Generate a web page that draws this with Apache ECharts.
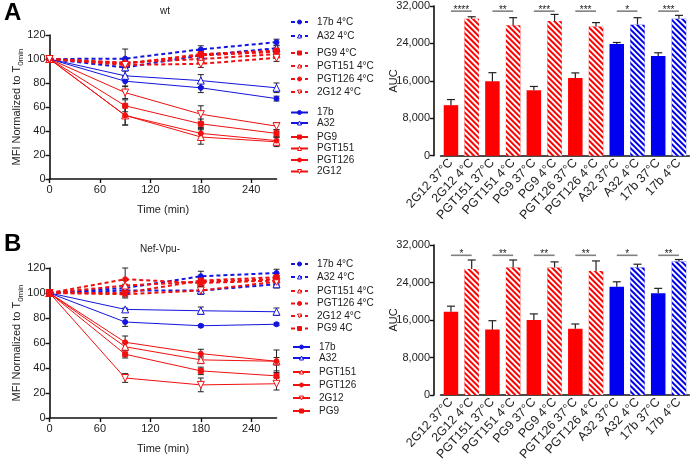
<!DOCTYPE html>
<html><head><meta charset="utf-8">
<script src="https://cdn.jsdelivr.net/npm/echarts@6/dist/echarts.min.js"></script>
<style>html,body{margin:0;padding:0;background:#fff}#c{width:696px;height:461px}</style>
</head><body><div id="c"></div>
<script>
// ---------- DATA ----------
const times = [0, 90, 180, 270];
const timeTicks = [0, 60, 120, 180, 240];

// Panel A (wt)
const A_17b_4C = [100, 100.3, 108, 114];   const A_17b_4C_err = [0, 8, 3, 2.5];
const A_A32_4C = [100, 93, 103, 109];      const A_A32_4C_err = [0, 7, 3, 2];
const A_PG9_4C = [100, 96, 104, 107];      const A_PG9_4C_err = [0, 3, 3, 2];
const A_PGT151_4C = [100, 97, 100, 104];   const A_PGT151_4C_err = [0, 3, 2, 2];
const A_PGT126_4C = [100, 96.5, 103, 106]; const A_PGT126_4C_err = [0, 3, 2, 2];
const A_2G12_4C = [100, 95, 96, 101];      const A_2G12_4C_err = [0, 3, 3, 3];
const A_17b = [100, 81.5, 76, 67];         const A_17b_err = [0, 4, 4, 2];
const A_A32 = [100, 86, 82, 76];           const A_A32_err = [0, 4, 5, 4];
const A_PG9 = [100, 61, 46, 38];           const A_PG9_err = [0, 5, 4, 3];
const A_PGT151 = [100, 53, 35, 31];        const A_PGT151_err = [0, 8, 6, 4];
const A_PGT126 = [100, 53, 38, 32];        const A_PGT126_err = [0, 8, 5, 3];
const A_2G12 = [100, 72, 54, 44];          const A_2G12_err = [0, 5, 7, 3];

// Panel B (Nef-Vpu-)
const B_17b_4C = [100, 104, 113.4, 116];   const B_17b_4C_err = [0, 3, 4, 3];
const B_A32_4C = [100, 102, 102, 107];     const B_A32_4C_err = [0, 3, 3, 3];
const B_PGT151_4C = [100, 106, 109, 111];  const B_PGT151_4C_err = [0, 4, 3, 3];
const B_PGT126_4C = [100, 111, 108, 110];  const B_PGT126_4C_err = [0, 9, 3, 3];
const B_2G12_4C = [100, 99, 102, 109];     const B_2G12_4C_err = [0, 3, 3, 3];
const B_PG9_4C = [100, 100, 110, 112.6];   const B_PG9_4C_err = [0, 3, 3, 3];
const B_17b = [100, 76.8, 73.8, 75];       const B_17b_err = [0, 3.5, 1, 1];
const B_A32 = [100, 86.9, 85.8, 85];       const B_A32_err = [0, 1, 3, 3];
const B_PGT151 = [100, 57, 46.5, 45.4];    const B_PGT151_err = [0, 3, 3, 3];
const B_PGT126 = [100, 60.6, 51.5, 45.4];  const B_PGT126_err = [0, 5, 3.5, 9];
const B_2G12 = [100, 32, 26.5, 27.4];      const B_2G12_err = [0, 3.5, 5.5, 5];
const B_PG9 = [100, 51, 37.7, 33.7];       const B_PG9_err = [0, 3, 3, 4];

// AUC bars
const barCategories = ['2G12 37°C', '2G12 4°C', 'PGT151 37°C', 'PGT151 4°C', 'PG9 37°C', 'PG9 4°C',
  'PGT126 37°C', 'PGT126 4°C', 'A32 37°C', 'A32 4°C', '17b 37°C', '17b 4°C'];
const aucA = [10800, 29300, 15900, 27900, 14000, 28800, 16600, 27600, 23900, 28000, 21300, 29300];
const aucA_err = [1200, 400, 1850, 1600, 800, 1400, 1100, 850, 300, 1500, 700, 700];
const aucB = [17750, 26900, 13950, 27200, 16000, 27200, 14150, 26450, 23100, 27200, 21700, 28500];
const aucB_err = [1200, 1900, 1900, 1600, 1300, 1200, 1000, 2150, 1050, 700, 1050, 400];
const sigPairs = [[0, 1], [2, 3], [4, 5], [6, 7], [8, 9], [10, 11]];
const sigStarsA = ['****', '**', '***', '***', '*', '***'];
const sigStarsB = ['*', '**', '**', '**', '*', '**'];
const sigLevelA = 30900;
const sigLevelB = 29800;

// ---------- STYLE ----------
const RED = '#f01010', BLUE = '#1414e0', BAR_RED = '#ff0000', BAR_BLUE = '#0000f0';
const FONT = 'Liberation Sans, Arial, sans-serif';

const panelA = [
  ['17b 4°C', A_17b_4C, A_17b_4C_err, BLUE, 'circle', true],
  ['A32 4°C', A_A32_4C, A_A32_4C_err, BLUE, 'emptyTriangle', true],
  ['PG9 4°C', A_PG9_4C, A_PG9_4C_err, RED, 'rect', true],
  ['PGT151 4°C', A_PGT151_4C, A_PGT151_4C_err, RED, 'emptyTriangle', true],
  ['PGT126 4°C', A_PGT126_4C, A_PGT126_4C_err, RED, 'circle', true],
  ['2G12 4°C', A_2G12_4C, A_2G12_4C_err, RED, 'invTri', true],
  ['17b', A_17b, A_17b_err, BLUE, 'circle', false],
  ['A32', A_A32, A_A32_err, BLUE, 'emptyTriangle', false],
  ['PG9', A_PG9, A_PG9_err, RED, 'rect', false],
  ['PGT151', A_PGT151, A_PGT151_err, RED, 'emptyTriangle', false],
  ['PGT126', A_PGT126, A_PGT126_err, RED, 'circle', false],
  ['2G12', A_2G12, A_2G12_err, RED, 'invTri', false]
];
const panelB = [
  ['17b 4°C', B_17b_4C, B_17b_4C_err, BLUE, 'circle', true],
  ['A32 4°C', B_A32_4C, B_A32_4C_err, BLUE, 'emptyTriangle', true],
  ['PGT151 4°C', B_PGT151_4C, B_PGT151_4C_err, RED, 'emptyTriangle', true],
  ['PGT126 4°C', B_PGT126_4C, B_PGT126_4C_err, RED, 'circle', true],
  ['2G12 4°C', B_2G12_4C, B_2G12_4C_err, RED, 'invTri', true],
  ['PG9 4C', B_PG9_4C, B_PG9_4C_err, RED, 'rect', true],
  ['17b', B_17b, B_17b_err, BLUE, 'circle', false],
  ['A32', B_A32, B_A32_err, BLUE, 'emptyTriangle', false],
  ['PGT151', B_PGT151, B_PGT151_err, RED, 'emptyTriangle', false],
  ['PGT126', B_PGT126, B_PGT126_err, RED, 'circle', false],
  ['2G12', B_2G12, B_2G12_err, RED, 'invTri', false],
  ['PG9', B_PG9, B_PG9_err, RED, 'rect', false]
];

function lineSeries(def, idx) {
  const [name, vals, errs, color, sym, dashed] = def;
  const inv = sym === 'invTri';
  const empty = sym === 'emptyTriangle' || inv;
  return {
    type: 'line', name, xAxisIndex: idx, yAxisIndex: idx,
    data: times.map((t, i) => [t, vals[i]]),
    symbol: empty ? 'triangle' : sym,
    symbolRotate: inv ? 180 : 0,
    symbolSize: sym === 'circle' ? 5 : (sym === 'rect' ? 5 : 7),
    showAllSymbol: true,
    itemStyle: { color: empty ? '#ffffff' : color, borderColor: color, borderWidth: 1 },
    lineStyle: { color, width: dashed ? 2 : 1, type: dashed ? [4, 3] : 'solid' },
    emphasis: { disabled: true }, animation: false, z: dashed ? 3 : 2
  };
}
function lineErrSeries(defs, idx) {
  const data = [];
  defs.forEach(d => times.forEach((t, i) => { if (d[2][i] > 0) data.push([t, d[1][i], d[2][i]]); }));
  return {
    type: 'custom', xAxisIndex: idx, yAxisIndex: idx, data, z: 1, animation: false, silent: true,
    renderItem(params, api) {
      const t = api.value(0), v = api.value(1), e = api.value(2);
      const hi = api.coord([t, v + e]), lo = api.coord([t, v - e]);
      const st = { stroke: '#222', lineWidth: 1 };
      return { type: 'group', children: [
        { type: 'line', shape: { x1: hi[0], y1: hi[1], x2: lo[0], y2: lo[1] }, style: st },
        { type: 'line', shape: { x1: hi[0] - 3, y1: hi[1], x2: hi[0] + 3, y2: hi[1] }, style: st },
        { type: 'line', shape: { x1: lo[0] - 3, y1: lo[1], x2: lo[0] + 3, y2: lo[1] }, style: st }
      ]};
    }
  };
}
function barSeries(vals, idx) {
  return {
    type: 'bar', xAxisIndex: idx, yAxisIndex: idx, barWidth: 14.5, animation: false, silent: true,
    data: vals.map((v, i) => {
      const color = i < 8 ? BAR_RED : BAR_BLUE;
      const item = { value: v, itemStyle: { color } };
      if (i % 2 === 1) item.itemStyle.decal = {
        symbol: 'rect', symbolSize: 1, color: '#ffffff',
        dashArrayX: [1, 0], dashArrayY: [1.8, 1.8], rotation: Math.PI / 4
      };
      return item;
    })
  };
}
function barErrSeries(vals, errs, idx) {
  return {
    type: 'custom', xAxisIndex: idx, yAxisIndex: idx, z: 3, animation: false, silent: true,
    data: vals.map((v, i) => [i, v, errs[i]]),
    renderItem(params, api) {
      const i = api.value(0), v = api.value(1), e = api.value(2);
      const base = api.coord([i, v]), hi = api.coord([i, v + e]);
      const st = { stroke: '#222', lineWidth: 1.2 };
      return { type: 'group', children: [
        { type: 'line', shape: { x1: base[0], y1: base[1], x2: hi[0], y2: hi[1] }, style: st },
        { type: 'line', shape: { x1: hi[0] - 4, y1: hi[1], x2: hi[0] + 4, y2: hi[1] }, style: st }
      ]};
    }
  };
}
function sigSeries(level, stars, idx) {
  return {
    type: 'custom', xAxisIndex: idx, yAxisIndex: idx, z: 4, animation: false, silent: true,
    data: sigPairs.map((p, k) => [p[0], p[1], level, k]),
    renderItem(params, api) {
      const a = api.coord([api.value(0), api.value(2)]), b = api.coord([api.value(1), api.value(2)]);
      const k = api.value(3);
      return { type: 'group', children: [
        { type: 'line', shape: { x1: a[0], y1: a[1], x2: b[0], y2: b[1] }, style: { stroke: '#808080', lineWidth: 1.6 } },
        { type: 'text', x: (a[0] + b[0]) / 2, y: a[1] + 4, style: { text: stars[k], fill: '#222', font: '10px ' + FONT, textAlign: 'center', textVerticalAlign: 'bottom' } }
      ]};
    }
  };
}

const axisLineStyle = { lineStyle: { color: '#111', width: 1.6 } };
const axisTickStyle = { show: true, length: 4, lineStyle: { color: '#111', width: 1.4 } };
function lineX(gi) {
  return { type: 'value', gridIndex: gi, min: 0, max: 270,
    name: 'Time (min)', nameLocation: 'middle', nameGap: 25, nameMoveOverlap: false,
    nameTextStyle: { fontSize: 11, color: '#222', fontFamily: FONT },
    axisLine: axisLineStyle, axisTick: Object.assign({ customValues: timeTicks }, axisTickStyle),
    axisLabel: { customValues: timeTicks, fontSize: 11, color: '#222', fontFamily: FONT, margin: 5 },
    splitLine: { show: false } };
}
function lineY(gi) {
  return { type: 'value', gridIndex: gi, min: 0, max: 120, interval: 20,
    name: 'MFI Normalized to T{sub|0min}', nameLocation: 'middle', nameGap: 25, nameMoveOverlap: false,
    nameTextStyle: { fontSize: 11, color: '#222', fontFamily: FONT,
      rich: { sub: { fontSize: 8, color: '#222', fontFamily: FONT, padding: [7, 0, 0, 0] } } },
    axisLine: Object.assign({ show: true }, axisLineStyle), axisTick: axisTickStyle,
    axisLabel: { fontSize: 11, color: '#222', fontFamily: FONT, margin: 4 },
    splitLine: { show: false } };
}
function barX(gi) {
  return { type: 'category', gridIndex: gi, data: barCategories,
    axisLine: axisLineStyle, axisTick: { show: false },
    axisLabel: { interval: 0, rotate: 47, fontSize: 12.5, color: '#222', fontFamily: FONT, margin: 5 } };
}
function barY(gi) {
  return { type: 'value', gridIndex: gi, min: 0, max: 32000, interval: 8000, offset: 6.6,
    name: 'AUC', nameLocation: 'middle', nameGap: 35, nameMoveOverlap: false,
    nameTextStyle: { fontSize: 11, color: '#222', fontFamily: FONT },
    axisLine: Object.assign({ show: true }, axisLineStyle), axisTick: axisTickStyle,
    axisLabel: { fontSize: 11, color: '#222', fontFamily: FONT, margin: 4 },
    splitLine: { show: false } };
}

function legendItem(name, defs) {
  const d = defs.find(x => x[0] === name);
  const empty = d[4] === 'emptyTriangle' || d[4] === 'invTri';
  return { name, itemStyle: { color: empty ? '#ffffff' : d[3], borderColor: d[3], borderWidth: 1 } };
}
function legend(names, defs, top, gap, left) {
  return { data: names.map(n => legendItem(n, defs)), orient: 'vertical', left: left, top: top, itemGap: gap,
    itemWidth: 17, itemHeight: 5, padding: 0, selectedMode: false,
    textStyle: { fontSize: 10, color: '#222', fontFamily: FONT, lineHeight: 9, padding: [0, 0, 0, 4] } };
}

const option = {
  animation: false,
  grid: [
    { left: 49.5, top: 35, width: 227, height: 144, outerBoundsMode: 'none' },
    { left: 49.5, top: 268, width: 227, height: 150, outerBoundsMode: 'none' },
    { left: 440.6, top: 6, width: 248.7, height: 149.7, outerBoundsMode: 'none' },
    { left: 440.6, top: 245, width: 248.7, height: 150, outerBoundsMode: 'none' }
  ],
  xAxis: [lineX(0), lineX(1), barX(2), barX(3)],
  yAxis: [lineY(0), lineY(1), barY(2), barY(3)],
  legend: [
    legend(['17b 4°C', 'A32 4°C'], panelA, 17, 4, 290),
    legend(['PG9 4°C', 'PGT151 4°C', 'PGT126 4°C', '2G12 4°C'], panelA, 48, 3, 290),
    legend(['17b', 'A32'], panelA, 107.5, 0.5, 290),
    legend(['PG9', 'PGT151', 'PGT126', '2G12'], panelA, 132, 1.5, 290),
    legend(['17b 4°C', 'A32 4°C'], panelB, 259, 3, 290),
    legend(['PGT151 4°C', 'PGT126 4°C', '2G12 4°C', 'PG9 4C'], panelB, 286, 2.5, 290),
    legend(['17b', 'A32'], panelB, 342, 1, 292),
    legend(['PGT151', 'PGT126', '2G12', 'PG9'], panelB, 367, 3, 292)
  ],
  graphic: [
    { type: 'text', left: 4, top: 1, style: { text: 'A', font: 'bold 24px ' + FONT, fill: '#000' } },
    { type: 'text', left: 4, top: 232, style: { text: 'B', font: 'bold 24px ' + FONT, fill: '#000' } },
    { type: 'text', x: 165, y: 11, style: { text: 'wt', font: '10px ' + FONT, fill: '#222', textAlign: 'center', textVerticalAlign: 'middle' } },
    { type: 'text', x: 160, y: 249, style: { text: 'Nef-Vpu-', font: '10px ' + FONT, fill: '#222', textAlign: 'center', textVerticalAlign: 'middle' } }
  ],
  series: [
    lineErrSeries(panelA, 0),
    ...panelA.map(d => lineSeries(d, 0)),
    lineErrSeries(panelB, 1),
    ...panelB.map(d => lineSeries(d, 1)),
    barSeries(aucA, 2), barErrSeries(aucA, aucA_err, 2), sigSeries(sigLevelA, sigStarsA, 2),
    barSeries(aucB, 3), barErrSeries(aucB, aucB_err, 3), sigSeries(sigLevelB, sigStarsB, 3)
  ]
};
const chart = echarts.init(document.getElementById('c'), null, { renderer: 'canvas' });
chart.setOption(option);
</script></body></html>
